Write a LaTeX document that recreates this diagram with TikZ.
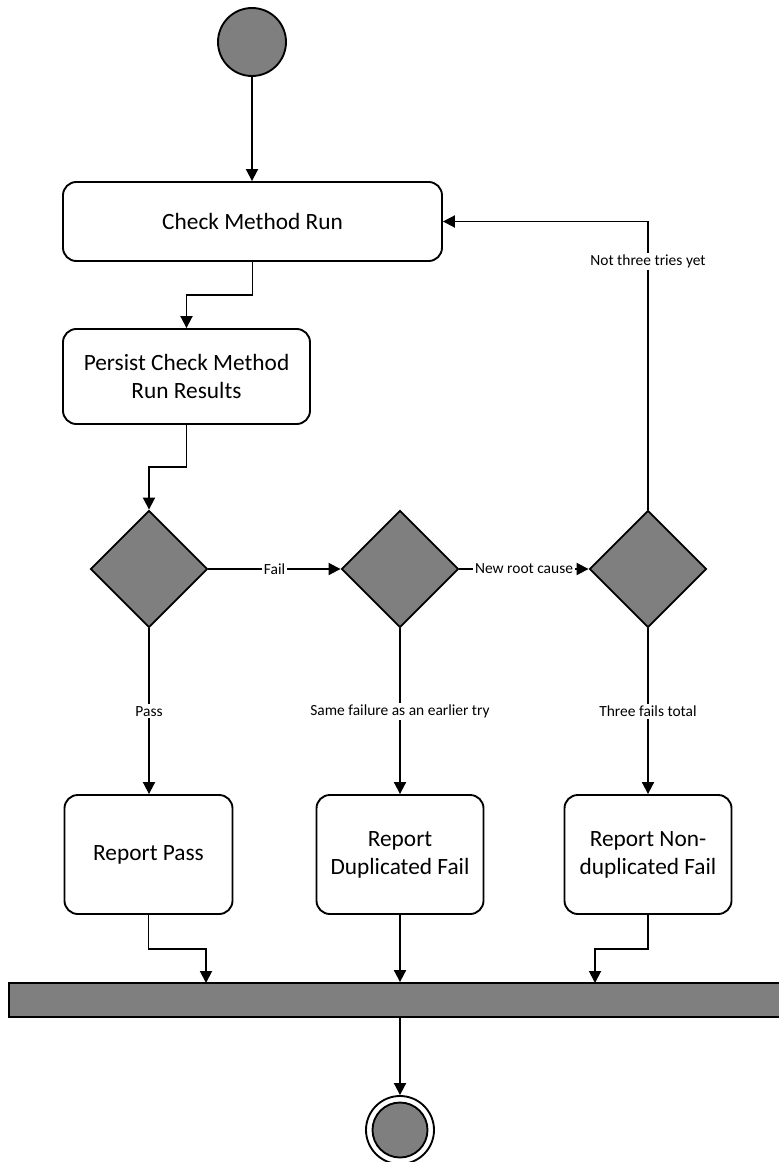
\documentclass[tikz,border=0pt]{standalone}
\usepackage{fontspec}
\setmainfont{Carlito}
\usetikzlibrary{arrows.meta,shapes.geometric,calc}
\definecolor{nodegray}{HTML}{7F7F7F}
\begin{document}
\begin{tikzpicture}[x=0.75pt,y=-0.75pt,
  line width=1.4pt,
  flow/.style={draw=black,-{Triangle[length=9pt,width=9pt]}},
  action/.style={draw=black,rounded corners=10pt,fill=white,align=center,
    inner sep=2pt,font=\fontsize{17.5}{21}\selectfont},
  decision/.style={diamond,draw=black,fill=nodegray,inner sep=0pt,
    minimum width=117*0.75pt,minimum height=117*0.75pt},
  lbl/.style={fill=white,inner sep=1.5pt,font=\fontsize{11.6}{13}\selectfont},
  barstyle/.style={rectangle,draw=black,fill=nodegray,inner sep=0pt}]
  \useasboundingbox (0,0) rectangle (778,1162);

  % start node
  \node[circle,draw=black,fill=nodegray,minimum size=68*0.75pt,inner sep=0pt] (start) at (252,42) {};

  % actions
  \node[action,minimum width=379*0.75pt,minimum height=79*0.75pt] (check) at (252.5,221.5) {Check Method Run};
  \node[action,minimum width=247*0.75pt,minimum height=95*0.75pt] (persist) at (186.5,376.5) {Persist Check Method\\Run Results};

  % decisions
  \node[decision] (d1) at (149,569) {};
  \node[decision] (d2) at (400,569) {};
  \node[decision] (d3) at (648,569) {};

  % reports
  \node[action,minimum width=168*0.75pt,minimum height=119*0.75pt] (rpass) at (148.5,854.5) {Report Pass};
  \node[action,minimum width=167*0.75pt,minimum height=119*0.75pt] (rdup) at (400,854.5) {Report\\Duplicated Fail};
  \node[action,minimum width=167*0.75pt,minimum height=119*0.75pt] (rnon) at (648,854.5) {Report Non-\\duplicated Fail};

  % join bar (runs past the right edge)
  \node[barstyle,minimum width=800*0.75pt,minimum height=34*0.75pt] (bar) at (409,1000) {};
  \coordinate (j1) at (206,983);
  \coordinate (j3) at (595,983);

  % final node
  \node[circle,draw=black,fill=white,minimum size=68*0.75pt,inner sep=0pt] (final) at (400,1130) {};
  \node[circle,draw=black,fill=nodegray,minimum size=55*0.75pt,inner sep=0pt] (finalin) at (400,1130) {};

  % connectors
  \draw[flow] (start.south) -- (start.south |- check.north);
  \draw[flow] (check.south) |- ($(check.south)!0.5!(persist.north)$) -| (persist.north);
  \draw[flow] (persist.south) |- ($(persist.south)!0.5!(d1.north)$) -| (d1.north);
  \draw[flow] (d1.east) -- node[lbl] {Fail} (d2.west);
  \draw[flow] (d2.east) -- node[lbl] {New root cause} (d3.west);
  \draw[flow] (d3.north) |- node[lbl,pos=0.43] {Not three tries yet} (check.east);
  \draw[flow] (d1.south) -- node[lbl] {Pass} (d1.south |- rpass.north);
  \draw[flow] (d2.south) -- node[lbl] {Same failure as an earlier try} (rdup.north);
  \draw[flow] (d3.south) -- node[lbl] {Three fails total} (rnon.north);
  \draw[flow] (rpass.south) |- ($(rpass.south)!0.5!(j1)$) -| (j1);
  \draw[flow] (rdup.south) -- (rdup.south |- bar.north);
  \draw[flow] (rnon.south) |- ($(rnon.south)!0.5!(j3)$) -| (j3);
  \draw[flow] (rdup.south |- bar.south) -- (final.north);
\end{tikzpicture}
\end{document}
